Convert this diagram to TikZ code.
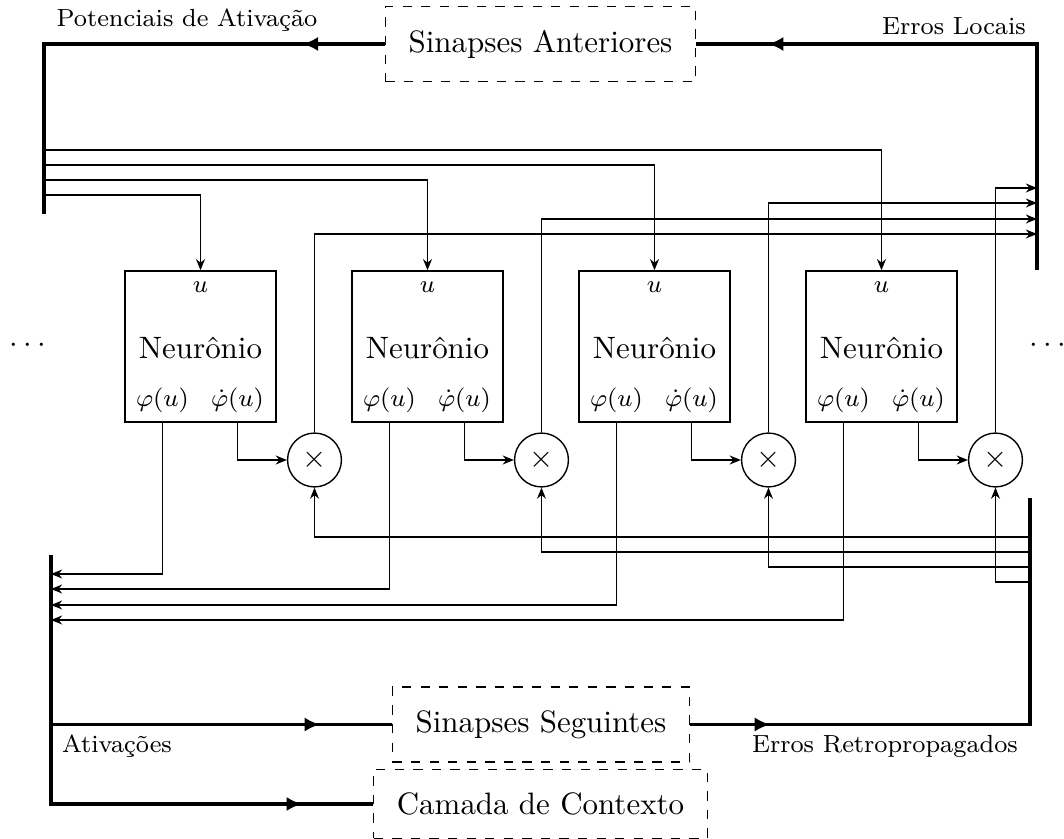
\documentclass[tikz,border=0pt]{standalone}
\usetikzlibrary{arrows.meta,decorations.markings}
\begin{document}
\begin{tikzpicture}[x=0.323pt,y=-0.323pt,
  every node/.style={inner sep=0pt},
  wire/.style={line width=0.45pt},
  bus/.style={line width=1pt},
  sig/.style={wire,-{Stealth[length=3.6pt,width=2.9pt]}},
  flow/.style={bus,postaction={decorate},
    decoration={markings,mark=at position #1 with {\arrow{Latex[length=5pt,width=4.6pt]}}}},
  syn/.style={draw,dashed,line width=0.45pt,inner xsep=7.5pt,inner ysep=7.5pt},
  neuron/.style={draw,line width=0.45pt,minimum size=48.8pt},
  mult/.style={draw,circle,line width=0.45pt,minimum size=17.4pt},
  lbl/.style={font=\footnotesize},
]
\useasboundingbox (0,0) rectangle (1064,839);

% synapse blocks and context layer
\node[syn] (Sa) at (540.5,44) {Sinapses Anteriores};
\node[syn] (Ss) at (541,724.5) {Sinapses Seguintes};
\node[syn] (Cc) at (540.5,804) {Camada de Contexto};

% bus end points
\coordinate (ltop) at (44,214);
\coordinate (rtop) at (1037,270);
\coordinate (lbot) at (51,555);
\coordinate (rbot) at (1030,498);

% thick buses with flow arrows
\draw[flow=26.5pt] (Sa.west) -| (ltop);
\draw[flow=159.9pt] (rtop) |- (Sa.east);
\draw[flow=161.5pt] (lbot) |- (Cc.west);
\draw[flow=86.9pt] (lbot |- Ss.west) -- (Ss.west);
\draw[flow=25.8pt] (Ss.east) -| (rbot);

% bus labels
\node[lbl] (lpa) at (187,20) {Potenciais de Ativação};
\node[lbl] (lel) at (954,26) {Erros Locais};
\node[lbl] (lat) at (117,746) {Ativações};
\node[lbl] (ler) at (885,746) {Erros Retropropagados};

% continuation dots
\node (dl) at (28,346) {$\cdots$};
\node (dr) at (1048,346) {$\cdots$};

% neurons with their multipliers
\foreach \i/\cx/\yin/\yout/\yup/\ydn in
  {1/200.5/195/574/234/537, 2/427.5/180/589/219/552,
   3/654.5/165/605/203/567, 4/881.5/150/620/188/582}{
  \node[neuron] (n\i) at (\cx,346.5) {};
  \node[lbl] (u\i) at (\cx,287) {$u$};
  \node (t\i) at (\cx,348) {Neurônio};
  \node[lbl] (p\i) at (\cx-38,400) {$\varphi(u)$};
  \node[lbl] (d\i) at (\cx+37,400) {$\dot\varphi(u)$};
  \node[mult] (m\i) at (\cx+114,460) {$\times$};
  \coordinate (in\i) at (44,\yin);
  \coordinate (out\i) at (51,\yout);
  \coordinate (err\i) at (1037,\yup);
  \coordinate (back\i) at (1030,\ydn);
  \draw[sig] (in\i) -| (n\i.north);
  \draw[sig] (n\i.south -| p\i) |- (out\i);
  \draw[sig] (n\i.south -| d\i) |- (m\i.west);
  \draw[sig] (m\i.north) |- (err\i);
  \draw[sig] (back\i) -| (m\i.south);
}
\end{tikzpicture}
\end{document}
